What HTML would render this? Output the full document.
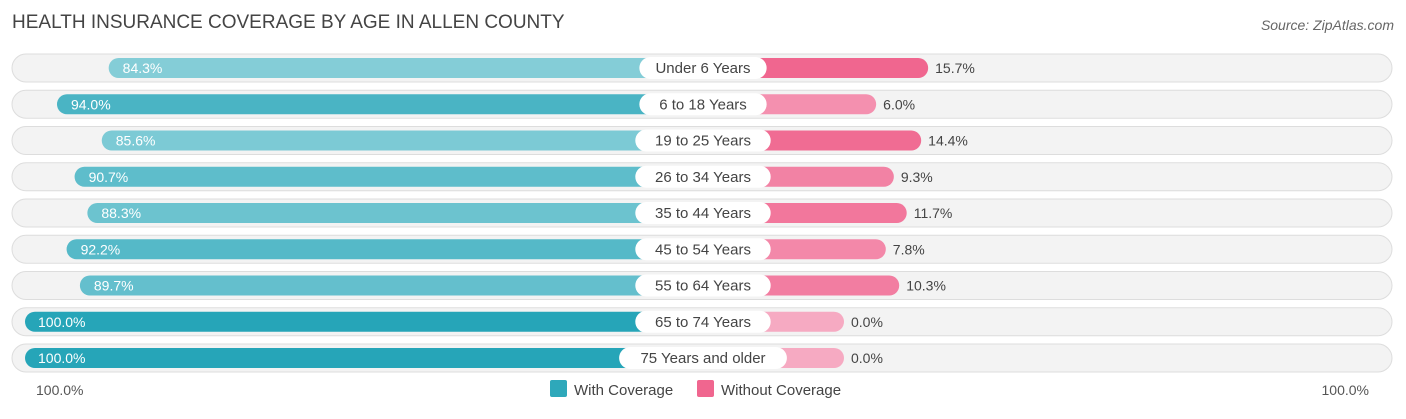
<!DOCTYPE html>
<html><head><meta charset="utf-8"><style>
body{margin:0;background:#fff;font-family:"Liberation Sans",sans-serif;}
</style></head><body>
<svg id="chart" width="1406" height="414" xmlns="http://www.w3.org/2000/svg">
<text x="12" y="28" font-size="19" fill="#444">HEALTH INSURANCE COVERAGE BY AGE IN ALLEN COUNTY</text>
<text x="1394" y="30" font-size="14" fill="#666" font-style="italic" text-anchor="end">Source: ZipAtlas.com</text>
<g id="rows"></g>
<text x="36" y="395" font-size="14" fill="#555">100.0%</text>
<text x="1369" y="395" font-size="14" fill="#555" text-anchor="end">100.0%</text>
<rect x="550" y="380" width="17" height="17" rx="2" fill="#2ea8ba"/>
<text x="574" y="395" font-size="15" fill="#444">With Coverage</text>
<rect x="697" y="380" width="17" height="17" rx="2" fill="#f0668f"/>
<text x="721" y="395" font-size="15" fill="#444">Without Coverage</text>
</svg>
<script>
const categories=["Under 6 Years","6 to 18 Years","19 to 25 Years","26 to 34 Years","35 to 44 Years","45 to 54 Years","55 to 64 Years","65 to 74 Years","75 Years and older"];
const withCoverage=[84.3,94.0,85.6,90.7,88.3,92.2,89.7,100.0,100.0];
const withoutCoverage=[15.7,6.0,14.4,9.3,11.7,7.8,10.3,0.0,0.0];
const NS="http://www.w3.org/2000/svg";
const g=document.getElementById('rows');
const cx=703;
function xLeft(v){return cx-145-v*5.33;}
function xRight(v){return cx+141+v*5.36;}
function rowY(i){return 68+i*36.25;}
function mix(a,b,t){t=Math.max(0,Math.min(1,t));return 'rgb('+a.map((c,k)=>Math.round(c+(b[k]-c)*t)).join(',')+')';}
function mk(tag,attrs){const e=document.createElementNS(NS,tag);for(const k in attrs)e.setAttribute(k,attrs[k]);return e;}
categories.forEach((c,i)=>{
  const y=rowY(i);
  const bg=mk('rect',{x:12,y:y-14,width:1380,height:28,rx:14,fill:'#f3f3f3',stroke:'#dddddd'});
  
  
  g.appendChild(bg);
  const v=withCoverage[i], l=xLeft(v);
  const b=mk('rect',{x:l,y:y-10,width:cx-l,height:20,rx:10,fill:mix([134,206,216],[38,165,184],(v-84)/16)});
  
  
  g.appendChild(b);
  const w=withoutCoverage[i], r=xRight(w);
  const p=mk('rect',{x:cx,y:y-10,width:r-cx,height:20,rx:10,fill:mix([246,170,194],[240,102,143],w/15.7)});
  
  
  g.appendChild(p);
  const t1=mk('text',{x:l+(v>=99?13:14),y:y+5,'font-size':14,fill:'#fff'});t1.textContent=v.toFixed(1)+'%';
  
  
  g.appendChild(t1);
  const t2=mk('text',{x:r+7,y:y+5,'font-size':14,fill:'#444'});t2.textContent=w.toFixed(1)+'%';
  
  
  g.appendChild(t2);
  const lw=c.length*8.1+22;
  const lb=mk('rect',{x:cx-lw/2,y:y-11,width:lw,height:22,rx:11,fill:'#fff'});
  
  
  g.appendChild(lb);
  const lt=mk('text',{x:cx,y:y+5,'font-size':15,fill:'#444','text-anchor':'middle'});lt.textContent=c;
  
  
  g.appendChild(lt);
});
</script>
</body></html>
